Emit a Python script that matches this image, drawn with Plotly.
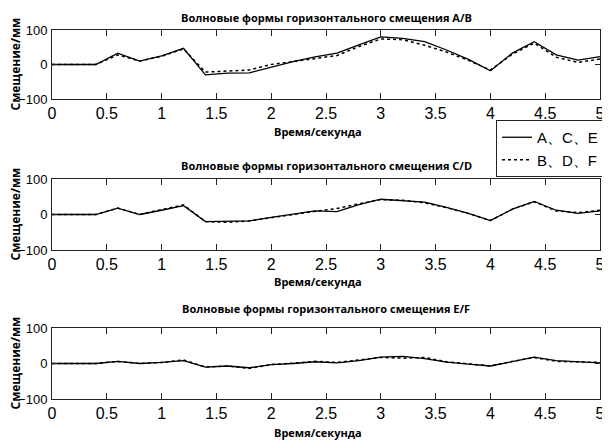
import plotly.graph_objects as go

t = [0, 0.2, 0.4, 0.6, 0.8, 1.0, 1.2, 1.4, 1.6, 1.8, 2.0, 2.2, 2.4, 2.6, 2.8,
     3.0, 3.2, 3.4, 3.6, 3.8, 4.0, 4.2, 4.4, 4.6, 4.8, 5.0]

disp_A = [0, 0, 0, 33, 10, 25, 47, -30, -25, -24, -7, 8, 22, 33, 57,
          80, 76, 66, 42, 15, -18, 33, 66, 28, 13, 23]
disp_B = [0, 0, 0, 28, 10, 24, 45, -22, -18, -16, 0, 8, 18, 26, 52,
          74, 72, 56, 36, 12, -16, 30, 62, 21, 6, 16]
disp_C = [0, 0, 0, 18, 0, 12, 25, -20, -20, -18, -8, 0, 10, 8, 28,
          43, 40, 35, 20, 3, -17, 15, 37, 12, 3, 10]
disp_D = [0, 0, 0, 18, 0, 14, 27, -20, -22, -18, -8, 0, 9, 17, 30,
          42, 40, 33, 19, 3, -17, 15, 36, 10, 5, 12]
disp_E = [0, 0, 0, 6, 0, 3, 8, -10, -7, -12, -3, 0, 5, 2, 8,
          18, 20, 14, 4, -2, -7, 5, 18, 8, 4, 2]
disp_F = [0, 0, 0, 6, 0, 3, 10, -10, -7, -14, -3, 1, 6, 3, 9,
          17, 15, 17, 5, -2, -7, 6, 17, 6, 4, 3]

titles = ["Волновые формы горизонтального смещения A/B",
          "Волновые формы горизонтального смещения C/D",
          "Волновые формы горизонтального смещения E/F"]
legend_names = ["A、C、E", "B、D、F"]
x_ticks = [0, 0.5, 1, 1.5, 2, 2.5, 3, 3.5, 4, 4.5, 5]
x_tick_text = ["0", "0.5", "1", "1.5", "2", "2.5", "3", "3.5", "4", "4.5", "5"]
y_ticks = [-100, 0, 100]
xlabel = "Время/секунда"
ylabel = "Смещение/мм"

# page has an 8px body margin, so the figure is 602x433 drawn at (8, 8)
W, H = 602, 433
OFF = 8
PL, PR = 52 - OFF, 600 - OFF          # plot left/right in figure px
W_PLOT = PR - PL
boxes = [(30 - OFF, 99 - OFF), (179 - OFF, 250 - OFF), (328 - OFF, 399 - OFF)]
title_y = [17 - OFF, 165 - OFF, 308 - OFF]
xlabel_y = [131 - OFF, 281 - OFF, 432 - OFF]
ylabel_x = 15 - OFF

pairs = [(disp_A, disp_B), (disp_C, disp_D), (disp_E, disp_F)]

fig = go.Figure()
tickfam = "Liberation Sans, Arial, sans-serif"
bold = "Open Sans, DejaVu Sans, sans-serif"

for i, (s, d) in enumerate(pairs):
    ax = "" if i == 0 else str(i + 1)
    fig.add_trace(go.Scatter(x=t, y=s, mode="lines", name=legend_names[0],
                             line=dict(color="black", width=1.3),
                             xaxis="x" + ax, yaxis="y" + ax,
                             showlegend=(i == 0)))
    fig.add_trace(go.Scatter(x=t, y=d, mode="lines", name=legend_names[1],
                             line=dict(color="black", width=1.5, dash="dot"),
                             xaxis="x" + ax, yaxis="y" + ax,
                             showlegend=(i == 0)))
    top, bot = boxes[i]
    dom = [1 - bot / H, 1 - top / H]
    xa = dict(domain=[0, 1], range=[0, 5], tickvals=x_ticks, ticktext=x_tick_text,
              ticks="inside", ticklen=6, tickcolor="#222", mirror="ticks",
              showline=True, linecolor="#222", linewidth=1, showgrid=False,
              zeroline=False, anchor="y" + ax, automargin=False,
              tickfont=dict(family=tickfam, size=16, color="black"))
    ya = dict(domain=dom, range=[-100, 100], tickvals=y_ticks,
              ticks="inside", ticklen=5, tickcolor="#222", mirror="ticks",
              showline=True, linecolor="#222", linewidth=1, showgrid=False,
              zeroline=False, anchor="x" + ax, ticklabelstandoff=1, automargin=False,
              tickfont=dict(family=tickfam, size=13, color="black"))
    fig.update_layout(**{"xaxis" + ax: xa, "yaxis" + ax: ya})
    fig.add_annotation(text="<b>" + titles[i] + "</b>", xref="paper", yref="paper",
                       x=0.5, y=1 - title_y[i] / H, xanchor="center", yanchor="middle",
                       showarrow=False, font=dict(family=bold, size=11, color="black"))
    fig.add_annotation(text="<b>" + xlabel + "</b>", xref="paper", yref="paper",
                       x=0.485, y=1 - xlabel_y[i] / H, xanchor="center", yanchor="middle",
                       showarrow=False, font=dict(family=bold, size=11, color="black"))
    fig.add_annotation(text="<b>" + ylabel + "</b>", xref="paper", yref="paper",
                       x=(ylabel_x - PL) / W_PLOT, y=1 - ((top + bot) / 2) / H,
                       xanchor="center", yanchor="middle", textangle=-90,
                       showarrow=False, font=dict(family=bold, size=12, color="black"))

fig.update_layout(
    width=W, height=H,
    margin=dict(l=PL, r=W - PR, t=0, b=0, autoexpand=False),
    paper_bgcolor="white", plot_bgcolor="white",
    showlegend=True,
    legend=dict(x=(604 - OFF - PL) / W_PLOT, y=1 - (120 - OFF) / H,
                xanchor="right", yanchor="top",
                bgcolor="white", bordercolor="#222", borderwidth=1,
                font=dict(family=tickfam, size=15, color="black"),
                tracegroupgap=0, itemwidth=30),
)

fig.write_html("out.html")
